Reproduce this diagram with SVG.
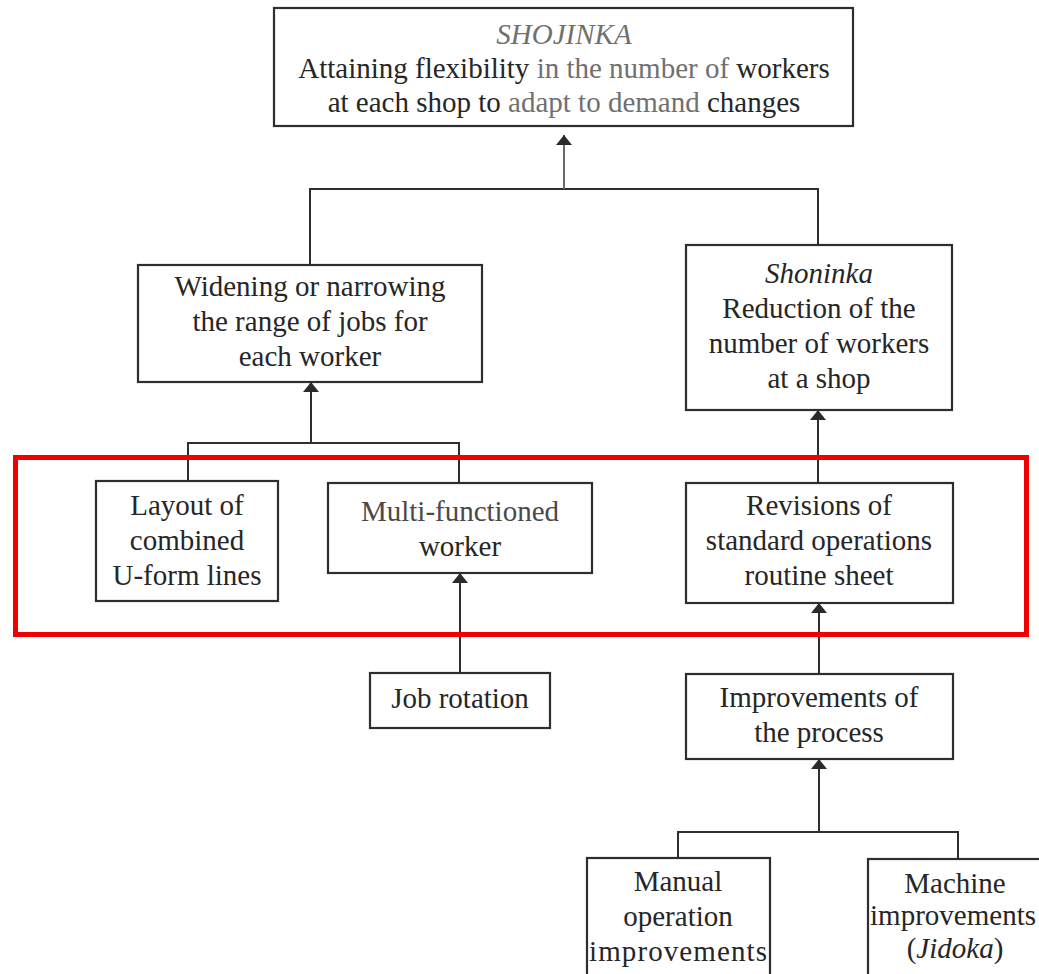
<svg xmlns="http://www.w3.org/2000/svg" width="1039" height="974" viewBox="0 0 1039 974">
  <defs>
    <marker id="arrow" viewBox="0 0 10 16" refX="10" refY="8" markerWidth="10" markerHeight="16" markerUnits="userSpaceOnUse" orient="auto">
      <path d="M0,0 L10,8 L0,16 Z" fill="#2a2a2a"/>
    </marker>
    <style>
      .box { fill: #ffffff; stroke: #2e2e2e; stroke-width: 2.2; }
      .lbl { font-family: "Liberation Serif", "Times New Roman", serif; font-size: 29px; fill: #262626; text-anchor: middle; }
      .it { font-style: italic; }
      .faded { fill: #707070; }
      .wire { fill: none; stroke: #2e2e2e; stroke-width: 2; }
      .arrow { fill: none; stroke: #2e2e2e; stroke-width: 2; marker-end: url(#arrow); }
      .frame { fill: none; stroke: #f00000; stroke-width: 5; }
    </style>
  </defs>

  <rect width="1039" height="974" fill="#ffffff"/>

  <!-- connectors -->
  <g id="connectors">
    <polyline class="wire" points="310,265 310,189 818,189 818,245"/>
    <line class="arrow" x1="564" y1="189" x2="564" y2="135" style="stroke:#6a6a6a"/>
    <polyline class="wire" points="188,481 188,443 459,443 459,483"/>
    <line class="arrow" x1="311" y1="443" x2="311" y2="382"/>
    <line class="arrow" x1="818" y1="483" x2="818" y2="410"/>
    <line class="arrow" x1="460" y1="673" x2="460" y2="573"/>
    <line class="arrow" x1="819" y1="674" x2="819" y2="603"/>
    <polyline class="wire" points="678,858 678,832 958,832 958,859"/>
    <line class="arrow" x1="819" y1="832" x2="819" y2="759"/>
  </g>

  <g id="shojinka">
    <rect class="box" x="274" y="8" width="579" height="118"/>
    <text class="lbl it faded" x="564" y="44">SHOJINKA</text>
    <text class="lbl" x="564" y="78">Attaining flexibility <tspan class="faded">in the number of</tspan> workers</text>
    <text class="lbl" x="564" y="112">at each shop to <tspan class="faded">adapt to demand</tspan> changes</text>
  </g>

  <g id="widening">
    <rect class="box" x="138" y="265" width="344" height="117"/>
    <text class="lbl" x="310" y="296">Widening or narrowing</text>
    <text class="lbl" x="310" y="331">the range of jobs for</text>
    <text class="lbl" x="310" y="366">each worker</text>
  </g>

  <g id="shoninka">
    <rect class="box" x="686" y="245" width="266" height="165"/>
    <text class="lbl it" x="819" y="283">Shoninka</text>
    <text class="lbl" x="819" y="318">Reduction of the</text>
    <text class="lbl" x="819" y="353">number of workers</text>
    <text class="lbl" x="819" y="388">at a shop</text>
  </g>

  <g id="layout">
    <rect class="box" x="96" y="481" width="182" height="120"/>
    <text class="lbl" x="187" y="515">Layout of</text>
    <text class="lbl" x="187" y="550">combined</text>
    <text class="lbl" x="187" y="585">U-form lines</text>
  </g>

  <g id="multi-functioned">
    <rect class="box" x="328" y="483" width="264" height="90"/>
    <text class="lbl" x="460" y="521" style="fill:#4a4a4a">Multi-functioned</text>
    <text class="lbl" x="460" y="556">worker</text>
  </g>

  <g id="revisions">
    <rect class="box" x="686" y="483" width="267" height="120"/>
    <text class="lbl" x="819" y="515">Revisions of</text>
    <text class="lbl" x="819" y="550">standard operations</text>
    <text class="lbl" x="819" y="585">routine sheet</text>
  </g>

  <g id="job-rotation">
    <rect class="box" x="370" y="673" width="180" height="55"/>
    <text class="lbl" x="460" y="708">Job rotation</text>
  </g>

  <g id="process">
    <rect class="box" x="686" y="674" width="267" height="85"/>
    <text class="lbl" x="819" y="707">Improvements of</text>
    <text class="lbl" x="819" y="742">the process</text>
  </g>

  <g id="manual">
    <rect class="box" x="587" y="858" width="183" height="130"/>
    <text class="lbl" x="678" y="891">Manual</text>
    <text class="lbl" x="678" y="926">operation</text>
    <text class="lbl" x="678" y="961" textLength="178" lengthAdjust="spacing">improvements</text>
  </g>

  <g id="machine">
    <rect class="box" x="868" y="859" width="190" height="130"/>
    <text class="lbl" x="955" y="893">Machine</text>
    <text class="lbl" x="953" y="925" textLength="166" lengthAdjust="spacing">improvements</text>
    <text class="lbl" x="955" y="958">(<tspan class="it">Jidoka</tspan>)</text>
  </g>

  <!-- highlight frame -->
  <rect class="frame" x="15.5" y="457.5" width="1011" height="177"/>
</svg>
